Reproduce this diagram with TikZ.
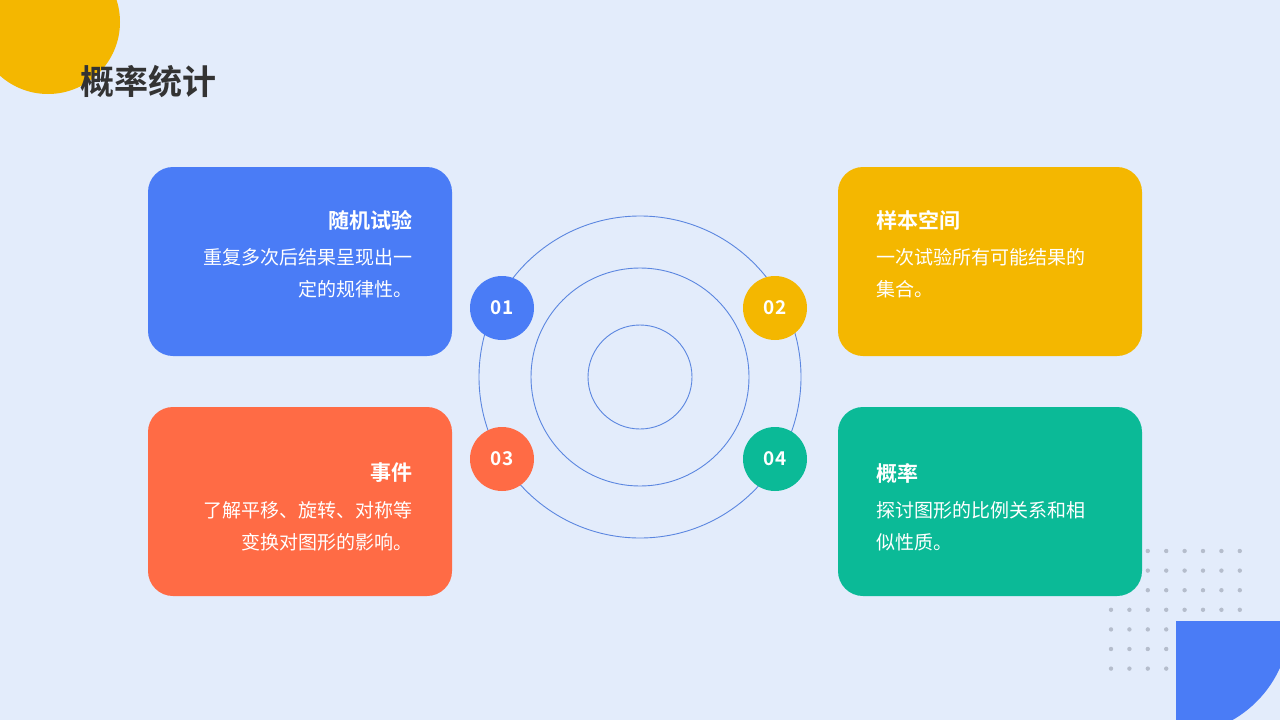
\documentclass[tikz,border=0pt]{standalone}
\usepackage{fontspec}
\setmainfont{Noto Sans CJK SC}
\newfontfamily\cjkb{Noto Sans CJK SC Bold}
\definecolor{bg}{HTML}{E3ECFB}
\definecolor{cblue}{HTML}{4A7CF6}
\definecolor{cyel}{HTML}{F4B700}
\definecolor{cred}{HTML}{FF6B45}
\definecolor{cgreen}{HTML}{0BBA97}
\definecolor{ring}{HTML}{5B86E0}
\definecolor{dotc}{HTML}{B5BDCC}
\begin{document}
\begin{tikzpicture}[x=1pt,y=-1pt,
  card/.style={rounded corners=25pt,minimum width=304pt,minimum height=189pt,inner sep=0pt},
  num/.style={circle,minimum size=64pt,inner sep=0pt,text=white,font=\cjkb\fontsize{19}{19}\selectfont},
  ttl/.style={text=white,font=\cjkb\fontsize{21}{21}\selectfont,inner sep=0pt},
  body/.style={text=white,font=\fontsize{19}{32}\selectfont,inner sep=0pt}]
\fill[bg] (0,0) rectangle (1280,720);
\useasboundingbox (0,0) rectangle (1280,720);
\fill[cyel] (48,22) circle (72);
\node[anchor=west,text=black!80,font=\cjkb\fontsize{34}{34}\selectfont,inner sep=0pt] (title) at (80,82) {概率统计};
% dots
\foreach \i in {0,...,7}{\foreach \j in {0,...,6}{\fill[dotc] (1111+18.4*\i,551+19.6*\j) circle (2.2);}}
\fill[cblue] (1176,720) -- (1176,621) -- (1290,621) arc[start angle=0,end angle=-90,x radius=114,y radius=-114] -- cycle;
% rings
\draw[ring,line width=0.9pt] (640,377) circle (52) (640,377) circle (109) (640,377) circle (161);
% cards
\node[card,fill=cblue] (c1) at (300,261.5) {};
\node[card,fill=cred] (c3) at (300,501.5) {};
\node[card,fill=cyel] (c2) at (990,261.5) {};
\node[card,fill=cgreen] (c4) at (990,501.5) {};
\node[ttl,anchor=east] (t1) at (413,220) {随机试验};
\node[body,anchor=north east,align=right] (b1) at (413,248) {重复多次后结果呈现出一\\定的规律性。};
\node[ttl,anchor=east] (t3) at (413,473) {事件};
\node[body,anchor=north east,align=right] (b3) at (413,501) {了解平移、旋转、对称等\\变换对图形的影响。};
\node[ttl,anchor=west] (t2) at (876,220) {样本空间};
\node[body,anchor=north west,align=left] (b2) at (876,248) {一次试验所有可能结果的\\集合。};
\node[ttl,anchor=west] (t4) at (876,473) {概率};
\node[body,anchor=north west,align=left] (b4) at (876,501) {探讨图形的比例关系和相\\似性质。};
\node[num,fill=cblue] (n1) at (502,308) {01};
\node[num,fill=cyel] (n2) at (775,308) {02};
\node[num,fill=cred] (n3) at (502,459) {03};
\node[num,fill=cgreen] (n4) at (775,459) {04};
\end{tikzpicture}
\end{document}
